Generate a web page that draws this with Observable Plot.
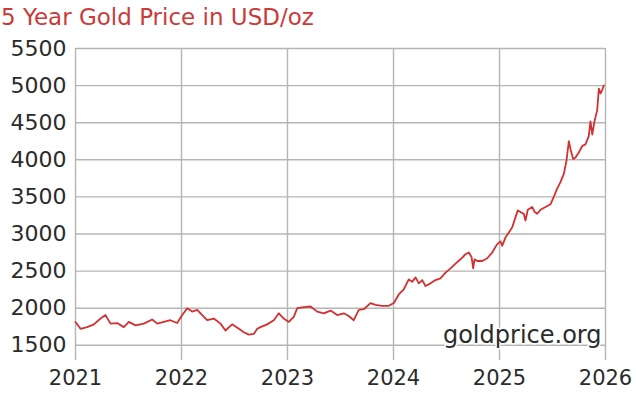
<!DOCTYPE html>
<html>
<head>
<meta charset="utf-8">
<script src="https://cdn.jsdelivr.net/npm/d3@7"></script>
<script src="https://cdn.jsdelivr.net/npm/@observablehq/plot@0.6"></script>
<style>
  html, body { margin: 0; padding: 0; background: #fff; }
  #title { font-family: "DejaVu Sans", Verdana, sans-serif; font-size: 23px; color: #cc3a3a; height: 34px; line-height: 34px; padding-left: 1px; white-space: nowrap; }
  #chart svg { display: block; }
</style>
</head>
<body>
<div id="title">5 Year Gold Price in USD/oz</div>
<div id="chart"></div>
<script>
// Time as decimal years (position), price in USD/oz
const times = [
  2021.000, 2021.047, 2021.110, 2021.173, 2021.236, 2021.283, 2021.330, 2021.393, 2021.456, 2021.503,
  2021.566, 2021.644, 2021.724, 2021.771, 2021.833, 2021.896, 2021.959, 2022.007, 2022.054, 2022.101,
  2022.148, 2022.195, 2022.242, 2022.305, 2022.368, 2022.415, 2022.478, 2022.541, 2022.588, 2022.635,
  2022.682, 2022.714, 2022.745, 2022.808, 2022.871, 2022.918, 2022.965, 2023.012, 2023.059, 2023.092,
  2023.154, 2023.217, 2023.280, 2023.342, 2023.406, 2023.469, 2023.531, 2023.578, 2023.625, 2023.673,
  2023.720, 2023.783, 2023.830, 2023.893, 2023.956, 2024.003, 2024.050, 2024.097, 2024.144, 2024.176,
  2024.208, 2024.239, 2024.271, 2024.302, 2024.349, 2024.396, 2024.443, 2024.491, 2024.538, 2024.585,
  2024.632, 2024.679, 2024.710, 2024.736, 2024.752, 2024.764, 2024.790, 2024.837, 2024.884, 2024.931,
  2024.978, 2025.009, 2025.025, 2025.057, 2025.104, 2025.120, 2025.151, 2025.173, 2025.198, 2025.229,
  2025.245, 2025.267, 2025.308, 2025.333, 2025.356, 2025.387, 2025.434, 2025.481, 2025.512, 2025.544,
  2025.575, 2025.607, 2025.632, 2025.654, 2025.670, 2025.695, 2025.717, 2025.748, 2025.780, 2025.811,
  2025.842, 2025.858, 2025.875, 2025.896, 2025.922, 2025.937, 2025.953, 2025.969, 2025.984
];
const prices = [
  1815, 1722, 1745, 1782, 1861, 1907, 1792, 1800, 1745, 1815,
  1768, 1792, 1847, 1792, 1815, 1838, 1800, 1907, 2000, 1954,
  1977, 1907, 1838, 1861, 1792, 1699, 1782, 1722, 1676, 1644,
  1653, 1722, 1745, 1782, 1838, 1931, 1861, 1815, 1884, 2000,
  2014, 2023, 1954, 1931, 1968, 1907, 1931, 1894, 1838, 1977,
  1986, 2069, 2046, 2032, 2032, 2069, 2185, 2255, 2388, 2355,
  2415, 2335, 2379, 2299, 2335, 2379, 2402, 2480, 2536, 2600,
  2659, 2727, 2750, 2691, 2536, 2659, 2636, 2636, 2673, 2750,
  2864, 2900, 2841, 2955, 3055, 3091, 3227, 3318, 3295, 3273,
  3182, 3327, 3364, 3295, 3273, 3327, 3364, 3400, 3500, 3611,
  3699, 3810, 3987, 4252, 4142, 4009, 4031, 4097, 4186, 4208,
  4319, 4518, 4341, 4518, 4673, 4960, 4894, 4938, 5004
];
const xTicks = [2021, 2022, 2023, 2024, 2025, 2026];
const yTicks = [1500, 2000, 2500, 3000, 3500, 4000, 4500, 5000, 5500];
const watermark = ["goldprice.org"];

const data = times.map((t, i) => ({t, p: prices[i]}));
const gridStyle = {stroke: "#b5b5b5", strokeOpacity: 1, strokeWidth: 1.4};

const chart = Plot.plot({
  width: 636,
  height: 362,
  marginTop: 14,
  marginLeft: 75,
  marginRight: 31,
  marginBottom: 36,
  style: {fontFamily: "'DejaVu Sans', Verdana, sans-serif", background: "#fff", color: "#2b2b2b"},
  x: {domain: [2021, 2026]},
  y: {domain: [1295, 5500]},
  marks: [
    Plot.gridX(xTicks, gridStyle),
    Plot.gridY(yTicks, gridStyle),
    Plot.axisX(xTicks, {tickSize: 0, tickPadding: 10, fontSize: 21, fill: "#2b2b2b", tickFormat: d => String(d), label: null}),
    Plot.axisY(yTicks, {tickSize: 0, tickPadding: 9, fontSize: 22, fill: "#2b2b2b", tickFormat: d => String(d), label: null}),
    Plot.line(data, {x: "t", y: "p", stroke: "#d43030", strokeWidth: 1.8}),
    Plot.text(watermark, {text: d => d, frameAnchor: "bottom-right", textAnchor: "end", lineAnchor: "middle", dx: -4, dy: -25, fontSize: 24, fill: "#2b2b2b", stroke: "#fff", strokeWidth: 3})
  ]
});
document.getElementById("chart").appendChild(chart);
</script>
</body>
</html>
